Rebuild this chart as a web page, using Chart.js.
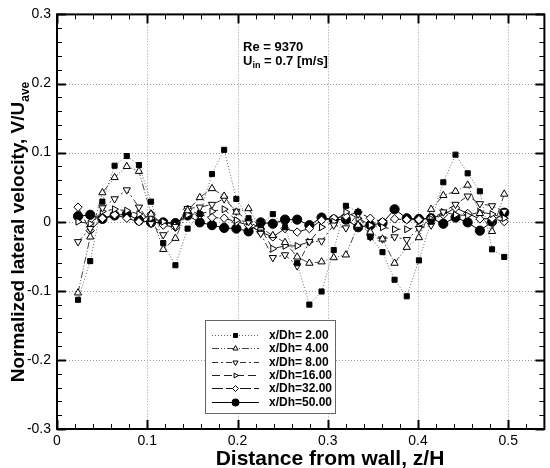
<!DOCTYPE html>
<html>
<head>
<meta charset="utf-8">
<script src="https://cdn.jsdelivr.net/npm/chart.js@4/dist/chart.umd.min.js"></script>
<style>
html,body{margin:0;padding:0;background:#fff;}
#wrap{width:550px;height:468px;position:relative;}
</style>
</head>
<body>
<div id="wrap"><canvas id="c" width="550" height="468"></canvas></div>
<script>
// ---- data ----
const zOverH = [0.0233,0.0368,0.0503,0.0638,0.0773,0.0908,0.1042,0.1177,0.1312,0.1447,0.1582,0.1717,0.1852,0.1987,0.2122,0.2257,0.2391,0.2526,0.2661,0.2796,0.2931,0.3066,0.3201,0.3336,0.3471,0.3606,0.3740,0.3875,0.4010,0.4145,0.4280,0.4415,0.4550,0.4685,0.4820,0.4955];
const seriesLabels = ["x/Dh= 2.00","x/Dh= 4.00","x/Dh= 8.00","x/Dh=16.00","x/Dh=32.00","x/Dh=50.00"];
const v_xDh2  = [-0.113,-0.057,0.029,0.081,0.095,0.082,0.029,-0.031,-0.063,-0.010,0.011,0.069,0.104,0.033,0.005,-0.005,0.011,-0.008,-0.060,-0.120,-0.101,-0.041,0.023,0.014,-0.022,-0.044,-0.084,-0.108,-0.056,0.000,0.057,0.097,0.070,0.044,-0.040,-0.051];
const v_xDh4  = [-0.103,-0.022,0.042,0.064,0.080,0.073,0.011,-0.040,-0.024,0.016,0.035,0.048,0.037,0.014,0.019,-0.009,-0.020,-0.030,-0.051,-0.060,-0.058,-0.052,-0.048,-0.005,-0.015,-0.025,-0.060,-0.037,-0.023,0.018,0.038,0.044,0.053,0.012,-0.014,0.040];
const v_xDh8  = [-0.029,-0.010,0.020,0.033,0.046,0.021,-0.003,-0.019,-0.007,0.019,0.021,0.025,0.033,0.015,0.000,-0.017,-0.052,-0.048,-0.064,-0.029,-0.028,-0.005,-0.009,0.011,-0.022,-0.025,-0.022,-0.026,-0.010,-0.005,0.014,0.025,0.037,0.026,0.023,0.015];
const v_xDh16 = [0.000,-0.003,0.015,0.018,0.016,0.011,0.005,0.000,-0.005,0.010,0.012,0.015,0.018,0.002,0.000,-0.010,-0.039,-0.035,-0.035,-0.029,-0.008,0.000,0.014,0.005,-0.005,-0.008,-0.011,-0.011,-0.008,0.004,0.014,0.010,0.009,0.014,0.011,0.005];
const v_xDh32 = [0.021,-0.013,0.005,0.010,0.005,0.000,0.011,-0.005,-0.008,0.018,0.010,0.006,0.005,0.000,-0.005,-0.015,-0.022,-0.010,-0.015,-0.010,0.002,0.005,0.008,0.014,0.005,0.000,0.004,0.003,0.003,0.005,0.010,0.020,0.012,0.004,0.005,0.000];
const v_xDh50 = [0.008,0.010,0.004,0.009,0.011,0.002,-0.001,-0.001,-0.002,0.009,-0.001,-0.005,-0.009,-0.010,-0.014,-0.001,-0.003,0.003,0.003,-0.005,0.006,0.003,0.003,-0.008,-0.005,-0.002,0.018,0.005,0.004,0.005,-0.003,0.006,-0.001,-0.013,0.000,0.013];
const xTickValues = [0,0.1,0.2,0.3,0.4,0.5];
const yTickValues = [-0.3,-0.2,-0.1,0,0.1,0.2,0.3];

// ---- styles ----
const styles = [
  {dash:[1,2], color:'#666', ps:'rect', r:3.6, rot:0, fill:'#000', lr:2.8},
  {dash:[7,2,1,2,1,2], color:'#444', ps:'triangle', r:4.2, rot:0, fill:'#fff', lr:3},
  {dash:[6,3,2,3], color:'#333', ps:'triangle', r:4.2, rot:180, fill:'#fff', lr:3},
  {dash:[8,4], color:'#222', ps:'triangle', r:4, rot:90, fill:'#fff', lr:2.8},
  {dash:[11,3], color:'#111', ps:'rectRot', r:4.2, rot:0, fill:'#fff', lr:3},
  {dash:[], color:'#000', ps:'circle', r:4.6, rot:0, fill:'#000', lr:3.6}
];
const allVals = [v_xDh2,v_xDh4,v_xDh8,v_xDh16,v_xDh32,v_xDh50];

const datasets = allVals.map((vals,k)=>({
  label: seriesLabels[k],
  data: zOverH.map((x,i)=>({x:x,y:vals[i]})),
  showLine:true,
  borderColor: styles[k].color,
  borderWidth:1,
  borderDash: styles[k].dash,
  pointStyle: styles[k].ps,
  pointRadius: styles[k].r,
  pointRotation: styles[k].rot,
  pointBackgroundColor: styles[k].fill,
  pointBorderColor:'#000',
  pointBorderWidth:1,
  tension:0
}));

function drawMarker(ctx, st, x, y){
  ctx.save();
  ctx.setLineDash([]);
  ctx.fillStyle = st.fill; ctx.strokeStyle='#000'; ctx.lineWidth=1;
  if (Chart.helpers && Chart.helpers.drawPoint){
    Chart.helpers.drawPoint(ctx,{pointStyle:st.ps,radius:st.lr,rotation:st.rot,borderWidth:1},x,y);
  }
  ctx.restore();
}

const FONT = '"Liberation Sans", Arial, sans-serif';

const framePlugin = {
  id:'frame',
  beforeDatasetsDraw(chart){
    const ctx=chart.ctx, a=chart.chartArea, xs=chart.scales.x, ys=chart.scales.y;
    ctx.save();
    ctx.strokeStyle='#9a9a9a'; ctx.lineWidth=1; ctx.setLineDash([1,2]);
    xTickValues.forEach(v=>{ if(v<=0) return; const px=Math.round(xs.getPixelForValue(v))+0.5;
      ctx.beginPath(); ctx.moveTo(px,a.top); ctx.lineTo(px,a.bottom); ctx.stroke();});
    yTickValues.forEach(v=>{ if(Math.abs(v)>0.29) return; const py=Math.round(ys.getPixelForValue(v))+0.5;
      ctx.beginPath(); ctx.moveTo(a.left,py); ctx.lineTo(a.right,py); ctx.stroke();});
    ctx.restore();
  },
  afterDatasetsDraw(chart){
    const ctx=chart.ctx, a=chart.chartArea, xs=chart.scales.x, ys=chart.scales.y;
    ctx.save();
    ctx.setLineDash([]);
    ctx.strokeStyle='#000';
    for(let k=0;k<=27;k++){
      const v=k*0.02; if(v>0.541) break;
      const px=Math.round(xs.getPixelForValue(v))+0.5;
      const major = (k%5===0);
      const len = major?9:5;
      ctx.lineWidth = major?2:1;
      ctx.beginPath(); ctx.moveTo(px,a.bottom); ctx.lineTo(px,a.bottom-len); ctx.stroke();
      ctx.beginPath(); ctx.moveTo(px,a.top); ctx.lineTo(px,a.top+len); ctx.stroke();
    }
    for(let k=-15;k<=15;k++){
      const v=k*0.02;
      const py=Math.round(ys.getPixelForValue(v))+0.5;
      const major = (k%5===0);
      const len = major?9:5;
      ctx.lineWidth = major?2:1;
      ctx.beginPath(); ctx.moveTo(a.left,py); ctx.lineTo(a.left+len,py); ctx.stroke();
      ctx.beginPath(); ctx.moveTo(a.right,py); ctx.lineTo(a.right-len,py); ctx.stroke();
    }
    ctx.lineWidth=2;
    ctx.strokeRect(a.left,a.top,a.right-a.left,a.bottom-a.top);

    // annotation
    ctx.fillStyle='#000';
    ctx.textBaseline='alphabetic';
    ctx.textAlign='left';
    ctx.font='bold 13px '+FONT;
    ctx.fillText('Re = 9370',243,51);
    let x0=243;
    ctx.fillText('U',x0,65); x0+=ctx.measureText('U').width;
    ctx.font='bold 9px '+FONT;
    ctx.fillText('in',x0,68); x0+=ctx.measureText('in').width;
    ctx.font='bold 13px '+FONT;
    ctx.fillText(' = 0.7 [m/s]',x0,65);

    // legend
    const lx=205, ly=320, lw=130, lh=93;
    ctx.fillStyle='#fff'; ctx.fillRect(lx,ly,lw,lh);
    ctx.strokeStyle='#666'; ctx.lineWidth=1; ctx.strokeRect(lx+0.5,ly+0.5,lw,lh);
    for(let k=0;k<6;k++){
      const yy = Math.round(335 + k*13.35)+0.5;
      const st=styles[k];
      ctx.strokeStyle=st.color; ctx.lineWidth=1; ctx.setLineDash(st.dash);
      ctx.beginPath(); ctx.moveTo(212,yy); ctx.lineTo(259,yy); ctx.stroke();
      ctx.setLineDash([]);
      drawMarker(ctx, st, 235.5, yy);
      ctx.fillStyle='#000';
      ctx.font='bold 12px '+FONT;
      ctx.textBaseline='middle';
      ctx.fillText(seriesLabels[k],269,yy+0.5);
    }

    // axis titles
    ctx.textBaseline='alphabetic';
    ctx.font='bold 21px '+FONT;
    ctx.textAlign='center';
    ctx.fillText('Distance from wall, z/H',330,465);

    ctx.save();
    ctx.translate(24,232);
    ctx.rotate(-Math.PI/2);
    const main='Normalized lateral velocity, V/U';
    ctx.font='bold 19px '+FONT;
    const w1=ctx.measureText(main).width;
    ctx.font='bold 12px '+FONT;
    const w2=ctx.measureText('ave').width;
    const start=-(w1+w2)/2;
    ctx.textAlign='left';
    ctx.font='bold 19px '+FONT;
    ctx.fillText(main,start,0);
    ctx.font='bold 12px '+FONT;
    ctx.fillText('ave',start+w1,5);
    ctx.restore();

    ctx.restore();
  }
};

new Chart(document.getElementById('c'),{
  type:'scatter',
  data:{datasets:datasets},
  options:{
    responsive:false,
    animation:false,
    devicePixelRatio:1,
    layout:{padding:{left:0,top:10,right:1,bottom:0}},
    plugins:{legend:{display:false},tooltip:{enabled:false}},
    scales:{
      x:{
        type:'linear', min:0, max:0.54,
        afterBuildTicks(s){ s.ticks = xTickValues.map(v=>({value:v})); },
        afterFit(s){ s.height=39; },
        grid:{display:false, drawTicks:false},
        border:{display:false},
        ticks:{padding:4, color:'#000', font:{family:FONT, size:14},
          maxRotation:0, autoSkip:false,
          callback:(v)=>String(Math.round(v*10)/10)}
      },
      y:{
        type:'linear', min:-0.3, max:0.3,
        afterBuildTicks(s){ s.ticks = yTickValues.map(v=>({value:v})); },
        afterFit(s){ s.width=57; },
        grid:{display:false, drawTicks:false},
        border:{display:false},
        ticks:{padding:6, color:'#000', font:{family:FONT, size:14},
          autoSkip:false,
          callback:(v)=>String(Math.round(v*10)/10)}
      }
    }
  },
  plugins:[framePlugin]
});
</script>
</body>
</html>
